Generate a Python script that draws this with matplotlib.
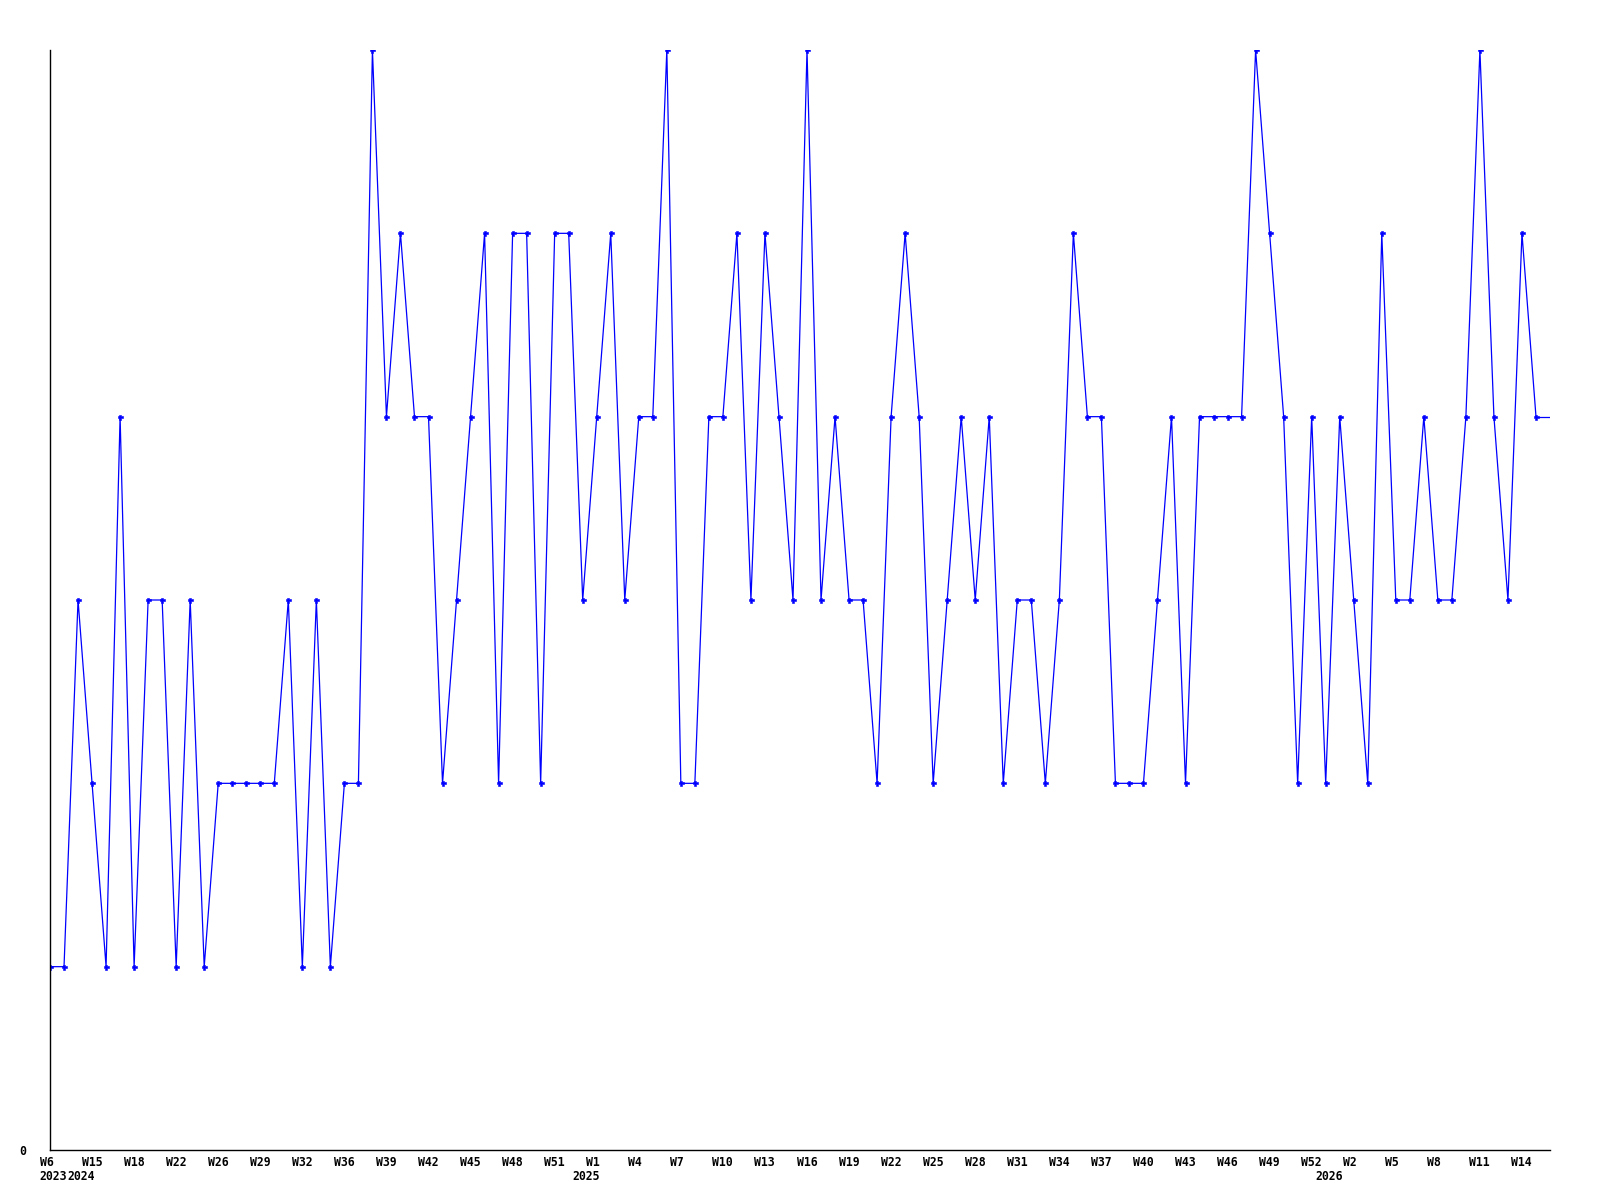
import matplotlib
matplotlib.use("Agg")
import matplotlib.pyplot as plt
import matplotlib.transforms as mtransforms

# weekly values, one per point
values = [1, 1, 3, 2, 1, 4, 1, 3, 3, 1, 3, 1, 2, 2, 2, 2, 2, 3, 1, 3,
          1, 2, 2, 6, 4, 5, 4, 4, 2, 3, 4, 5, 2, 5, 5, 2, 5, 5, 3, 4,
          5, 3, 4, 4, 6, 2, 2, 4, 4, 5, 3, 5, 4, 3, 6, 3, 4, 3, 3, 2,
          4, 5, 4, 2, 3, 4, 3, 4, 2, 3, 3, 2, 3, 5, 4, 4, 2, 2, 2, 3,
          4, 2, 4, 4, 4, 4, 6, 5, 4, 2, 4, 2, 4, 3, 2, 5, 3, 3, 4, 3,
          3, 4, 6, 4, 3, 5, 4]

week_labels = ["W6", "W15", "W18", "W22", "W26", "W29", "W32", "W36", "W39",
               "W42", "W45", "W48", "W51", "W1", "W4", "W7", "W10", "W13",
               "W16", "W19", "W22", "W25", "W28", "W31", "W34", "W37", "W40",
               "W43", "W46", "W49", "W52", "W2", "W5", "W8", "W11", "W14"]
week_every = 3

year_labels = ["2023", "2024", "2025", "2026"]
year_index = [0, 2, 38, 91]

xs = list(range(len(values)))
x_end = len(values)

font = "DejaVu Sans Mono"
fs = 8.3

fig = plt.figure(figsize=(16, 12), dpi=100)
ax = fig.add_axes([50 / 1600, 50 / 1200, 1500 / 1600, 1100 / 1200])

ax.plot(xs, values, color="#0000ff", lw=0.9, marker="P", ms=3.6,
        mec="#0000ff", mfc="#0000ff", mew=0.4)
# flat tail out to the axis end
ax.plot([xs[-1], x_end], [values[-1], values[-1]], color="#0000ff", lw=0.9)

ax.set_xlim(0, x_end)
ax.set_ylim(0, 6)

for side in ["top", "right"]:
    ax.spines[side].set_visible(False)
for side in ["left", "bottom"]:
    ax.spines[side].set_linewidth(1.0)
    ax.spines[side].set_color("black")

ax.set_yticks([0])
ax.set_yticklabels(["0"], fontfamily=font, fontweight="bold", fontsize=fs)
ax.tick_params(axis="y", length=0, pad=17)

ax.set_xticks(xs[::week_every])
ax.set_xticklabels(week_labels, fontfamily=font, fontweight="bold",
                   fontsize=fs, ha="left")
ax.tick_params(axis="x", length=0, pad=4)
shift = mtransforms.ScaledTranslation(-10.5 / 100, 0, fig.dpi_scale_trans)
for lab in ax.get_xticklabels():
    lab.set_transform(lab.get_transform() + shift)

for lab, idx in zip(year_labels, year_index):
    ax.annotate(lab, xy=(idx, 0), xycoords=("data", "axes fraction"),
                xytext=(-10.5, -20), textcoords="offset pixels",
                ha="left", va="top", fontfamily=font, fontweight="bold",
                fontsize=fs)

fig.savefig("out.png", dpi=100)
